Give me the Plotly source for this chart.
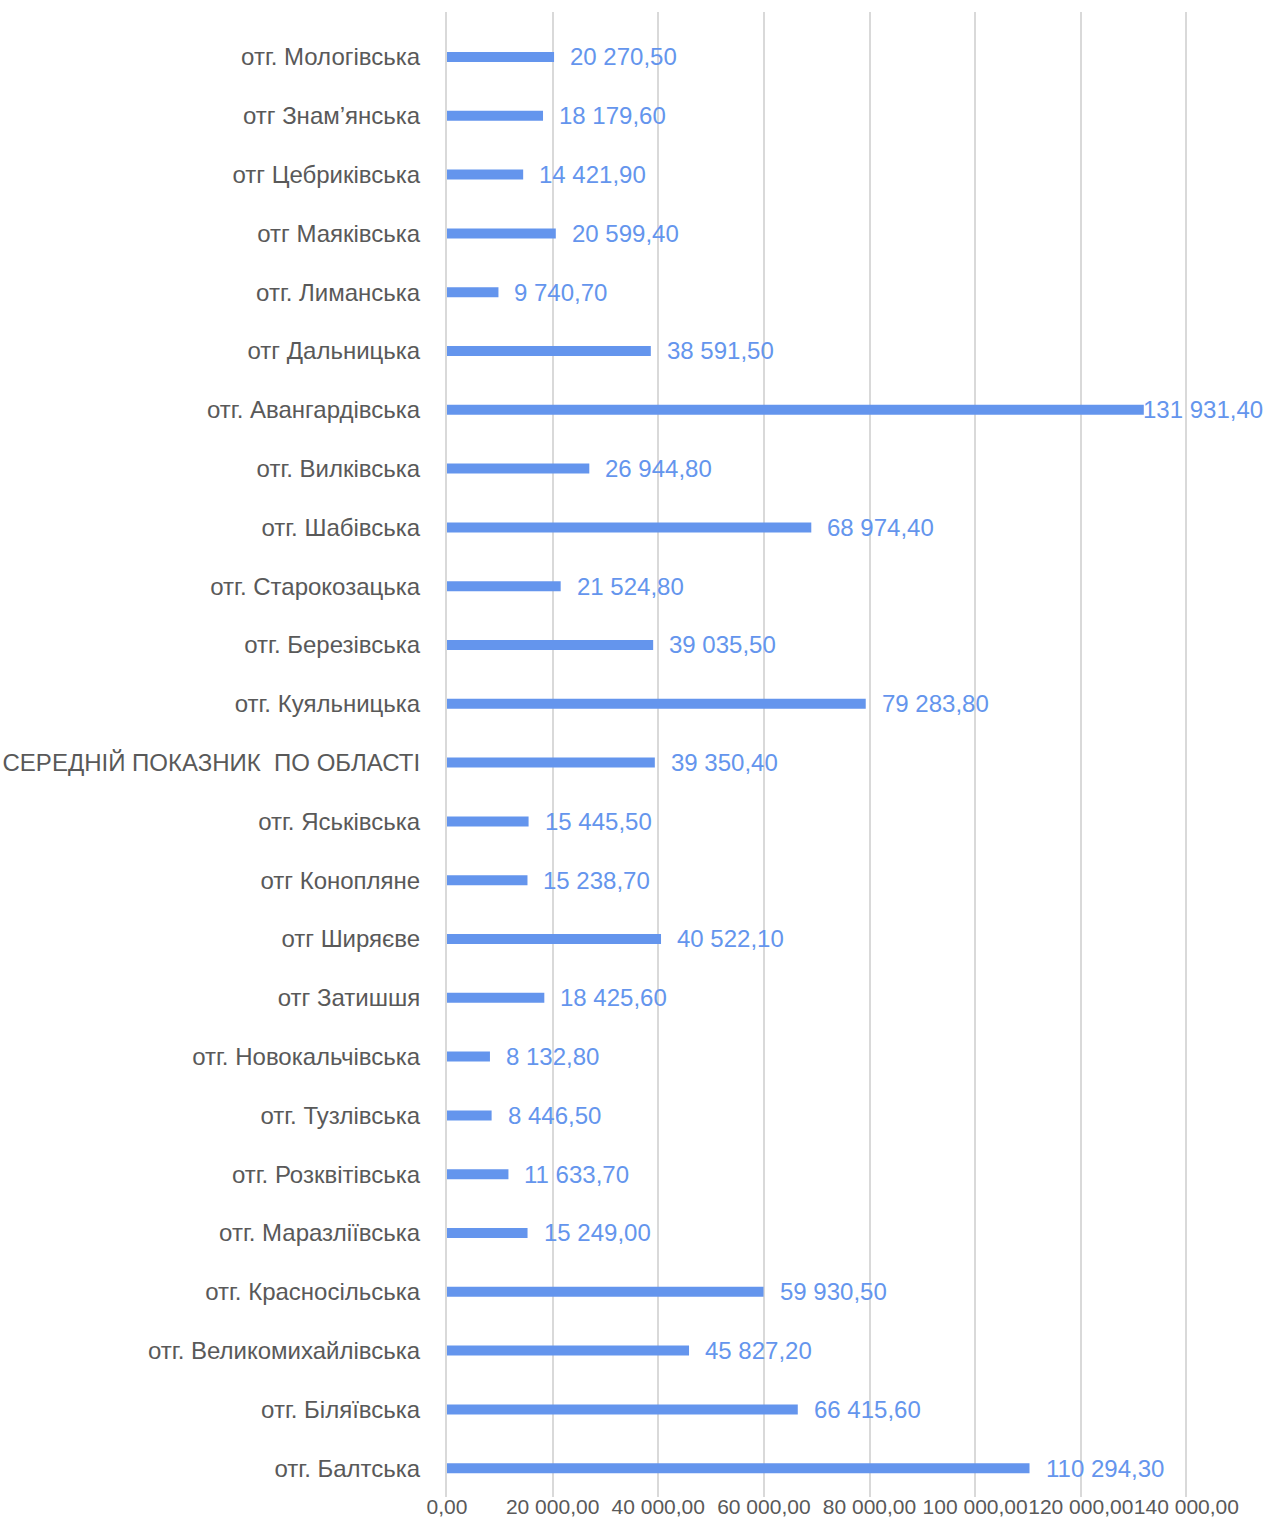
import plotly.graph_objects as go

categories = [
    "отг. Мологівська", "отг Знам’янська", "отг Цебриківська", "отг Маяківська",
    "отг. Лиманська", "отг Дальницька", "отг. Авангардівська", "отг. Вилківська",
    "отг. Шабівська", "отг. Старокозацька", "отг. Березівська", "отг. Куяльницька",
    "СЕРЕДНІЙ ПОКАЗНИК  ПО ОБЛАСТІ", "отг. Яськівська", "отг Конопляне",
    "отг Ширяєве", "отг Затишшя", "отг. Новокальчівська", "отг. Тузлівська",
    "отг. Розквітівська", "отг. Маразліївська", "отг. Красносільська",
    "отг. Великомихайлівська", "отг. Біляївська", "отг. Балтська",
]
values = [
    20270.50, 18179.60, 14421.90, 20599.40, 9740.70, 38591.50, 131931.40, 26944.80,
    68974.40, 21524.80, 39035.50, 79283.80, 39350.40, 15445.50, 15238.70, 40522.10,
    18425.60, 8132.80, 8446.50, 11633.70, 15249.00, 59930.50, 45827.20, 66415.60,
    110294.30,
]
x_ticks = [0, 20000, 40000, 60000, 80000, 100000, 120000, 140000]

BLUE = "#6495ED"
GREY = "#595959"
FONT = "Liberation Sans, Arial, sans-serif"


def fmt(v):
    return f"{v:,.2f}".replace(",", " ").replace(".", ",")


fig = go.Figure(go.Bar(
    x=values, y=categories, orientation="h",
    marker=dict(color=BLUE, line=dict(width=0)),
    width=0.17,
    hoverinfo="skip",
))

vmax = max(values)
for c, v in zip(categories, values):
    fig.add_annotation(
        x=v, y=c, text=fmt(v), showarrow=False, xanchor="left", yanchor="middle",
        xshift=(-3 if v == vmax else 14),
        font=dict(family=FONT, size=24, color=BLUE),
    )

fig.update_layout(
    width=1263, height=1519,
    margin=dict(l=447, r=75, t=12, b=22),
    paper_bgcolor="white", plot_bgcolor="white",
    showlegend=False,
    font=dict(family=FONT, color=GREY),
    xaxis=dict(
        range=[0, 140300], tickvals=x_ticks,
        ticktext=[fmt(t) for t in x_ticks],
        showgrid=True, gridcolor="#D9D9D9", gridwidth=2,
        zeroline=False, showline=False, ticks="", tickangle=0,
        tickfont=dict(size=21, color=GREY), automargin=False,
        ticklabelstandoff=-5,
    ),
    yaxis=dict(
        type="category", categoryorder="array", categoryarray=categories,
        range=[24.49, -0.765], showgrid=False, zeroline=False,
        showline=True, linecolor="#D9D9D9", linewidth=2, ticks="",
        tickfont=dict(size=24, color=GREY), ticklabelstandoff=20,
        automargin=False,
    ),
)

fig.write_html("out.html", config={"displayModeBar": False},
               post_script="document.body.style.margin='0';")
